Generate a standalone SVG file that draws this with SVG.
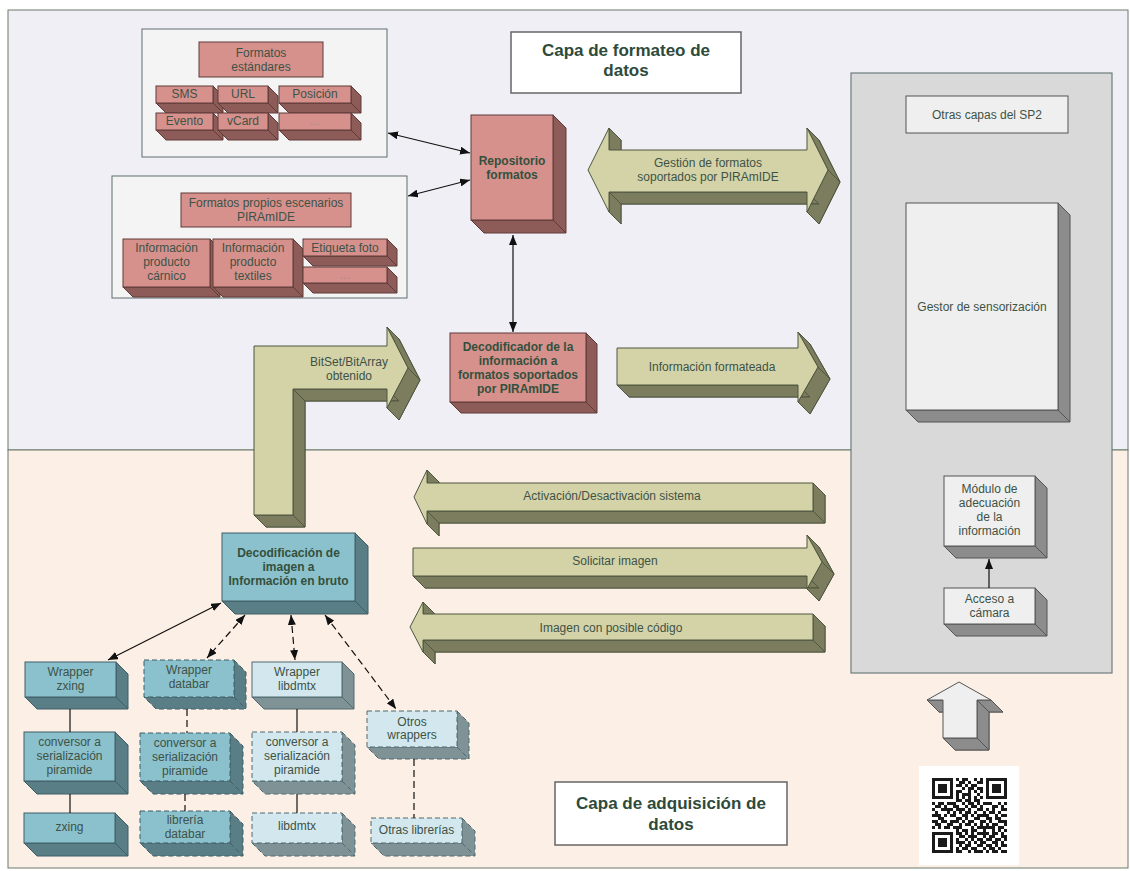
<svg xmlns="http://www.w3.org/2000/svg" xmlns:xlink="http://www.w3.org/1999/xlink" width="1130" height="871" viewBox="0 0 1130 871">
<style>
text{font-family:"Liberation Sans",Arial,sans-serif;font-size:12px;fill:#3e5246;text-anchor:middle}
.b{font-weight:bold;fill:#34503c}
.ttl{font-size:17px;font-weight:bold;fill:#2e4a3b}
.dim{fill:#b08886}
.pf{fill:#d6918d;stroke:#5e3a38}
.ps{fill:#8d5c59;stroke:#5e3a38}
.bf{fill:#8bc1cd;stroke:#3f5f66}
.bs{fill:#5a7e86;stroke:#3f5f66}
.lf{fill:#d2e8ee;stroke:#4f6a70}
.ls{fill:#7f9397;stroke:#4f6a70}
.gf{fill:#efefef;stroke:#555}
.gs{fill:#8c8c8c;stroke:#555}
.af{fill:#d4d3a8;stroke:#4e573f}
.as{fill:#7c7c5f;stroke:#4e573f}
.dash{stroke-dasharray:5 3}
.con{stroke:#111;stroke-width:1.2;fill:none}
.cd{stroke-dasharray:7 4}
</style>
<defs>
<marker id="ah" viewBox="0 0 10 8" refX="10" refY="4" markerWidth="10" markerHeight="8" markerUnits="userSpaceOnUse" orient="auto-start-reverse"><path d="M0,0 L10,4 L0,8 z" fill="#111"/></marker>
<polygon id="pA" points="588,170 609,128 609,150 807,150 807,128 828,170 807,212 807,192 609,192 609,212"/>
<polygon id="pB" points="617,348 798,348 798,332 818,367 798,402 798,385 617,385"/>
<polygon id="pC" points="254,515 254,346 387,346 387,327 408,368 387,408 387,389 293,389 293,515"/>
<polygon id="pD" points="414,497 427,470 427,483 813,483 813,511 427,511 427,524"/>
<polygon id="pE" points="413,548 807,548 807,535 822,562 807,589 807,576 413,576"/>
<polygon id="pF" points="410,627 423,602 423,614 813,614 813,640 423,640 423,652"/>
<polygon id="pG" points="959,682 991,700 977,700 977,738 943,738 943,700 927,700"/>
</defs>

<g id="layers">
<rect x="8" y="10" width="1120" height="440" fill="#f0eff5" stroke="#6b7b6b"/>
<rect x="8" y="450" width="1120" height="418" fill="#fcefe6" stroke="#6b7b6b"/>
</g>

<g id="title-formateo">
<rect x="511" y="32" width="230" height="61" fill="#fff" stroke="#666" stroke-width="1.5"/>
<text class="ttl" x="626" y="56">Capa de formateo de</text>
<text class="ttl" x="626" y="76">datos</text>
</g>

<g id="title-adquisicion">
<rect x="555" y="782" width="232" height="63" fill="#fff" stroke="#666" stroke-width="1.5"/>
<text class="ttl" x="671" y="809">Capa de adquisición de</text>
<text class="ttl" x="671" y="830">datos</text>
</g>

<g id="formatos-estandares">
<rect x="142" y="29" width="245" height="128" fill="#f4f4f4" stroke="#5f6f6f"/>
<rect class="pf" x="199" y="42" width="124" height="35"/>
<text x="261" y="57">Formatos</text>
<text x="261" y="71">estándares</text>
<g id="fmt-sms"><path class="ps" d="M213,86 l10,10 v17 h-57 l-10,-10 h57 z M213,103 l10,10"/><rect class="pf" x="156" y="86" width="57" height="17"/><text x="184.5" y="98">SMS</text></g>
<g id="fmt-url"><path class="ps" d="M268,86 l10,10 v17 h-50 l-10,-10 h50 z M268,103 l10,10"/><rect class="pf" x="218" y="86" width="50" height="17"/><text x="243" y="98">URL</text></g>
<g id="fmt-pos"><path class="ps" d="M351,86 l10,10 v17 h-72 l-10,-10 h72 z M351,103 l10,10"/><rect class="pf" x="279" y="86" width="72" height="17"/><text x="315" y="98">Posición</text></g>
<g id="fmt-evento"><path class="ps" d="M213,113 l10,10 v17 h-57 l-10,-10 h57 z M213,130 l10,10"/><rect class="pf" x="156" y="113" width="57" height="17"/><text x="184.5" y="125">Evento</text></g>
<g id="fmt-vcard"><path class="ps" d="M268,113 l10,10 v17 h-50 l-10,-10 h50 z M268,130 l10,10"/><rect class="pf" x="218" y="113" width="50" height="17"/><text x="243" y="125">vCard</text></g>
<g id="fmt-more"><path class="ps" d="M351,113 l10,10 v17 h-72 l-10,-10 h72 z M351,130 l10,10"/><rect class="pf" x="279" y="113" width="72" height="17"/><text class="dim" x="315" y="125">...</text></g>
</g>

<g id="formatos-propios">
<rect x="112" y="176" width="295" height="122" fill="#f4f4f4" stroke="#5f6f6f"/>
<rect class="pf" x="181" y="193" width="170" height="34"/>
<text x="266" y="207">Formatos propios escenarios</text>
<text x="266" y="221">PIRAmIDE</text>
<g id="fmt-carnico"><path class="ps" d="M210,239 l10,10 v48 h-87 l-10,-10 h87 z M210,287 l10,10"/><rect class="pf" x="123" y="239" width="87" height="48"/><text x="166.5" y="252">Información</text><text x="166.5" y="266">producto</text><text x="166.5" y="280">cárnico</text></g>
<g id="fmt-textiles"><path class="ps" d="M293,239 l10,10 v48 h-80 l-10,-10 h80 z M293,287 l10,10"/><rect class="pf" x="213" y="239" width="80" height="48"/><text x="253" y="252">Información</text><text x="253" y="266">producto</text><text x="253" y="280">textiles</text></g>
<g id="fmt-foto"><path class="ps" d="M387,239 l10,10 v17 h-84 l-10,-10 h84 z M387,256 l10,10"/><rect class="pf" x="303" y="239" width="84" height="17"/><text x="345" y="252">Etiqueta foto</text></g>
<g id="fmt-more2"><path class="ps" d="M387,267 l10,10 v16 h-84 l-10,-10 h84 z M387,283 l10,10"/><rect class="pf" x="303" y="267" width="84" height="16"/><text class="dim" x="345" y="279">...</text></g>
</g>

<g id="repositorio">
<path class="ps" d="M553,115 l13,13 v105 h-82 l-13,-13 h82 z M553,220 l13,13"/>
<rect class="pf" x="471" y="115" width="82" height="105"/>
<text class="b" x="512" y="165">Repositorio</text>
<text class="b" x="512" y="179">formatos</text>
</g>

<g id="decodificador">
<path class="ps" d="M586,333 l11,11 v69 h-136 l-11,-11 h136 z M586,402 l11,11"/>
<rect class="pf" x="450" y="333" width="136" height="69"/>
<text class="b" x="518" y="351">Decodificador de la</text>
<text class="b" x="518" y="365">información a</text>
<text class="b" x="518" y="379">formatos soportados</text>
<text class="b" x="518" y="393">por PIRAmIDE</text>
</g>

<g id="arrow-gestion">
<use href="#pA" class="as" transform="translate(12,12)"/>
<path class="as" d="M609,128 L621,140 L621,162 L609,150 Z M609,192 L807,192 L819,204 L621,204 Z M609,192 L609,212 L621,224 L621,204 Z M807,128 L828,170 L840,182 L819,140 Z M828,170 L807,212 L819,224 L840,182 Z"/>
<use href="#pA" class="af"/>
<text x="708" y="167">Gestión de formatos</text>
<text x="708" y="181">soportados por PIRAmIDE</text>
</g>

<g id="arrow-info-formateada">
<use href="#pB" class="as" transform="translate(12,12)"/>
<path class="as" d="M617,385 L798,385 L810,397 L629,397 Z M798,332 L818,367 L830,379 L810,344 Z M818,367 L798,402 L810,414 L830,379 Z"/>
<use href="#pB" class="af"/>
<text x="712" y="371">Información formateada</text>
</g>

<g id="arrow-bitset">
<use href="#pC" class="as" transform="translate(12,12)"/>
<path class="as" d="M387,327 L408,368 L420,380 L399,339 Z M408,368 L387,408 L399,420 L420,380 Z M293,389 L387,389 L399,401 L305,401 Z M293,389 L305,401 L305,527 L293,515 Z M254,515 L293,515 L305,527 L266,527 Z"/>
<use href="#pC" class="af"/>
<text x="349" y="366">BitSet/BitArray</text>
<text x="349" y="380">obtenido</text>
</g>

<g id="arrow-activacion">
<use href="#pD" class="as" transform="translate(12,12)"/>
<path class="as" d="M427,470 L439,482 L439,495 L427,483 Z M813,483 L825,495 L825,523 L813,511 Z M427,511 L813,511 L825,523 L439,523 Z M427,511 L439,523 L439,536 L427,524 Z"/>
<use href="#pD" class="af"/>
<text x="612" y="500">Activación/Desactivación sistema</text>
</g>

<g id="arrow-solicitar">
<use href="#pE" class="as" transform="translate(12,12)"/>
<path class="as" d="M413,576 L807,576 L819,588 L425,588 Z M807,535 L822,562 L834,574 L819,547 Z M822,562 L807,589 L819,601 L834,574 Z"/>
<use href="#pE" class="af"/>
<text x="615" y="565">Solicitar imagen</text>
</g>

<g id="arrow-imagen">
<use href="#pF" class="as" transform="translate(12,12)"/>
<path class="as" d="M423,602 L435,614 L435,626 L423,614 Z M813,614 L825,626 L825,652 L813,640 Z M423,640 L813,640 L825,652 L435,652 Z M423,640 L435,652 L435,664 L423,652 Z"/>
<use href="#pF" class="af"/>
<text x="611" y="632">Imagen con posible código</text>
</g>

<g id="sp2-panel">
<rect x="851" y="73" width="261" height="600" fill="#d9d9d9" stroke="#6d7d7d" stroke-width="1.2"/>
</g>

<g id="otras-capas">
<rect class="gf" x="906" y="96" width="162" height="37"/>
<text x="987" y="119">Otras capas del SP2</text>
</g>

<g id="gestor">
<path class="gs" d="M1058,203 l12,12 v207 h-152 l-12,-12 h152 z M1058,410 l12,12"/>
<rect class="gf" x="906" y="203" width="152" height="207"/>
<text x="982" y="311">Gestor de sensorización</text>
</g>

<g id="modulo">
<path class="gs" d="M1035,476 l12,12 v70 h-91 l-12,-12 h91 z M1035,546 l12,12"/>
<rect class="gf" x="944" y="476" width="91" height="70"/>
<text x="989.5" y="493">Módulo de</text>
<text x="989.5" y="507">adecuación</text>
<text x="989.5" y="521">de la</text>
<text x="989.5" y="535">información</text>
</g>

<g id="acceso">
<path class="gs" d="M1035,588 l12,12 v36 h-91 l-12,-12 h91 z M1035,624 l12,12"/>
<rect class="gf" x="944" y="588" width="91" height="36"/>
<text x="989.5" y="603">Acceso a</text>
<text x="989.5" y="617">cámara</text>
</g>

<g id="arrow-up">
<use href="#pG" class="gs" transform="translate(12,12)"/>
<path class="gs" d="M977,700 L991,700 L1003,712 L989,712 Z M977,700 L989,712 L989,750 L977,738 Z M943,738 L977,738 L989,750 L955,750 Z M927,700 L943,700 L955,712 L939,712 Z"/>
<use href="#pG" class="gf"/>
</g>

<g id="qr">
<rect x="919" y="766" width="100" height="99" fill="#fff"/>
<path fill="none" stroke="#1a1a1a" stroke-width="3" d="M932,779.5h21m3,0h3m3,0h6m6,0h3m3,0h3m3,0h21 M932,782.5h3m15,0h3m6,0h6m3,0h3m6,0h6m3,0h3m15,0h3 M932,785.5h3m3,0h9m3,0h3m3,0h6m3,0h3m3,0h6m9,0h3m3,0h9m3,0h3 M932,788.5h3m3,0h9m3,0h3m9,0h3m3,0h6m3,0h6m3,0h3m3,0h9m3,0h3 M932,791.5h3m3,0h9m3,0h3m3,0h6m6,0h3m3,0h3m3,0h3m3,0h3m3,0h9m3,0h3 M932,794.5h3m15,0h3m3,0h3m3,0h9m6,0h3m6,0h3m15,0h3 M932,797.5h21m3,0h3m3,0h3m3,0h3m3,0h3m3,0h3m3,0h21 M932,800.5m24,0h6m3,0h6m3,0h6 M932,803.5h3m3,0h6m3,0h9m6,0h3m3,0h6m3,0h3m3,0h9m6,0h3m3,0h3 M932,806.5m3,0h6m3,0h3m6,0h6m6,0h3m3,0h6m3,0h3m9,0h6m3,0h3 M932,809.5h3m6,0h12m3,0h9m3,0h3m6,0h6m3,0h3m3,0h3m6,0h6 M932,812.5m3,0h3m9,0h3m3,0h3m3,0h3m3,0h6m3,0h3m6,0h3m3,0h6m3,0h3 M932,815.5h9m3,0h3m3,0h6m6,0h6m3,0h3m3,0h12m6,0h3m3,0h6 M932,818.5m6,0h6m12,0h6m3,0h3m6,0h6m6,0h6m3,0h6 M932,821.5h6m3,0h6m3,0h9m3,0h3m3,0h6m6,0h6m3,0h3m6,0h9 M932,824.5m3,0h6m6,0h6m6,0h3m3,0h6m3,0h3m3,0h3m3,0h3m3,0h6m6,0h3 M932,827.5h3m3,0h3m3,0h6m3,0h9m9,0h3m3,0h18m3,0h6 M932,830.5m24,0h3m3,0h6m3,0h6m6,0h3m6,0h3m3,0h3m3,0h3 M932,833.5h21m3,0h6m3,0h3m3,0h3m3,0h12m3,0h6m3,0h3 M932,836.5h3m15,0h3m6,0h6m3,0h9m6,0h3m3,0h6m6,0h6 M932,839.5h3m3,0h9m3,0h3m3,0h3m6,0h3m3,0h3m3,0h6m3,0h6m3,0h6m3,0h3 M932,842.5h3m3,0h9m3,0h3m3,0h9m3,0h3m3,0h3m3,0h6m6,0h6m3,0h3 M932,845.5h3m3,0h9m3,0h3m6,0h3m3,0h6m6,0h6m3,0h6m3,0h3m3,0h6 M932,848.5h3m15,0h3m3,0h3m3,0h6m3,0h6m6,0h3m3,0h6m3,0h3 M932,851.5h21m3,0h6m6,0h3m3,0h9m3,0h3m3,0h6m3,0h6"/>
</g>

<g id="decodificacion">
<path class="bs" d="M355,533 l13,13 v68 h-133 l-13,-13 h133 z M355,601 l13,13"/>
<rect class="bf" x="222" y="533" width="133" height="68"/>
<text class="b" x="288.5" y="557">Decodificación de</text>
<text class="b" x="288.5" y="571">imagen a</text>
<text class="b" x="288.5" y="585">Información en bruto</text>
</g>

<g id="wrapper-zxing">
<path class="bs" d="M116,662 l12,12 v35 h-91 l-12,-12 h91 z M116,697 l12,12"/>
<rect class="bf" x="25" y="662" width="91" height="35"/>
<text x="70.5" y="676">Wrapper</text><text x="70.5" y="690">zxing</text>
</g>
<g id="wrapper-databar">
<path class="bs dash" d="M234,660 l12,12 v37 h-90 l-12,-12 h90 z M234,697 l12,12"/>
<rect class="bf dash" x="144" y="660" width="90" height="37"/>
<text x="189" y="674">Wrapper</text><text x="189" y="688">databar</text>
</g>
<g id="wrapper-libdmtx">
<path class="ls" d="M342,662 l12,12 v35 h-90 l-12,-12 h90 z M342,697 l12,12"/>
<rect class="lf" x="252" y="662" width="90" height="35"/>
<text x="297" y="676">Wrapper</text><text x="297" y="690">libdmtx</text>
</g>
<g id="otros-wrappers">
<path class="ls dash" d="M457,711 l12,12 v36 h-90 l-12,-12 h90 z M457,747 l12,12"/>
<rect class="lf dash" x="367" y="711" width="90" height="36"/>
<text x="412" y="726">Otros</text><text x="412" y="739">wrappers</text>
</g>

<g id="conv-zxing">
<path class="bs" d="M115,732 l13,13 v49 h-91 l-13,-13 h91 z M115,781 l13,13"/>
<rect class="bf" x="24" y="732" width="91" height="49"/>
<text x="69.5" y="746">conversor a</text><text x="69.5" y="760">serialización</text><text x="69.5" y="774">piramide</text>
</g>
<g id="conv-databar">
<path class="bs dash" d="M230,733 l13,13 v48 h-90 l-13,-13 h90 z M230,781 l13,13"/>
<rect class="bf dash" x="140" y="733" width="90" height="48"/>
<text x="185" y="747">conversor a</text><text x="185" y="761">serialización</text><text x="185" y="775">piramide</text>
</g>
<g id="conv-libdmtx">
<path class="ls dash" d="M342,732 l13,13 v49 h-90 l-13,-13 h90 z M342,781 l13,13"/>
<rect class="lf dash" x="252" y="732" width="90" height="49"/>
<text x="297" y="746">conversor a</text><text x="297" y="760">serialización</text><text x="297" y="774">piramide</text>
</g>

<g id="lib-zxing">
<path class="bs" d="M115,813 l13,13 v30 h-91 l-13,-13 h91 z M115,843 l13,13"/>
<rect class="bf" x="24" y="813" width="91" height="30"/>
<text x="69.5" y="831">zxing</text>
</g>
<g id="lib-databar">
<path class="bs dash" d="M230,811 l13,13 v32 h-90 l-13,-13 h90 z M230,843 l13,13"/>
<rect class="bf dash" x="140" y="811" width="90" height="32"/>
<text x="185" y="824">librería</text><text x="185" y="838">databar</text>
</g>
<g id="lib-libdmtx">
<path class="ls dash" d="M342,813 l13,13 v30 h-90 l-13,-13 h90 z M342,843 l13,13"/>
<rect class="lf dash" x="252" y="813" width="90" height="30"/>
<text x="297" y="830">libdmtx</text>
</g>
<g id="otras-librerias">
<path class="ls dash" d="M462,818 l13,13 v25 h-91 l-13,-13 h91 z M462,843 l13,13"/>
<rect class="lf dash" x="371" y="818" width="91" height="25"/>
<text x="416.5" y="834">Otras librerías</text>
</g>

<g id="connectors">
<line class="con" x1="388" y1="133" x2="470" y2="153" marker-start="url(#ah)" marker-end="url(#ah)"/>
<line class="con" x1="408" y1="196" x2="470" y2="180" marker-start="url(#ah)" marker-end="url(#ah)"/>
<line class="con" x1="513" y1="235" x2="513" y2="332" marker-start="url(#ah)" marker-end="url(#ah)"/>
<line class="con" x1="989" y1="588" x2="989" y2="559" marker-end="url(#ah)"/>
<line class="con" x1="221" y1="603" x2="108" y2="660" marker-start="url(#ah)" marker-end="url(#ah)"/>
<line class="con cd" x1="245" y1="615" x2="207" y2="658" marker-start="url(#ah)" marker-end="url(#ah)"/>
<line class="con cd" x1="291" y1="615" x2="295" y2="660" marker-start="url(#ah)" marker-end="url(#ah)"/>
<line class="con cd" x1="325" y1="615" x2="396" y2="709" marker-start="url(#ah)" marker-end="url(#ah)"/>
<line class="con" x1="70" y1="709" x2="70" y2="732"/>
<line class="con" x1="70" y1="794" x2="70" y2="813"/>
<line class="con cd" x1="187" y1="709" x2="187" y2="733"/>
<line class="con cd" x1="185" y1="794" x2="185" y2="811"/>
<line class="con" x1="297" y1="709" x2="297" y2="732"/>
<line class="con" x1="297" y1="794" x2="297" y2="813"/>
<line class="con cd" x1="414" y1="759" x2="414" y2="818"/>
</g>
</svg>
